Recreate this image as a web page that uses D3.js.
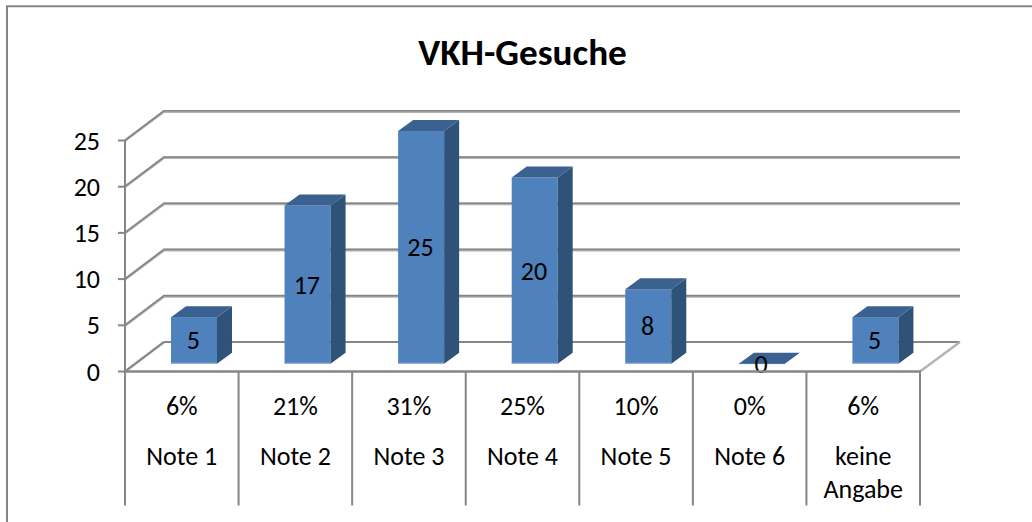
<!DOCTYPE html>
<html><head><meta charset="utf-8">
<style>html,body{margin:0;padding:0;background:#fff}svg{display:block}text{font-family:Carlito,Lato,"Open Sans",sans-serif;fill:#000}</style>
<script src="https://cdn.jsdelivr.net/npm/d3@7"></script></head><body><script>
const categories=["Note 1","Note 2","Note 3","Note 4","Note 5","Note 6","keine Angabe"];
const percentLabels=["6%","21%","31%","25%","10%","0%","6%"];
const values=[5,17,25,20,8,0,5];
const yTicks=[0,5,10,15,20,25];
const title="VKH-Gesuche";

const W=1032,H=522;
const svg=d3.select("body").append("svg").attr("width",W).attr("height",H);
const x0=125,x1=920,depthX=39,depthY=-29.5;
const y=d3.scaleLinear().domain([0,25]).range([371.5,140.5]);
const x=d3.scaleBand().domain(categories).range([x0,x1]);
const barY=d3.scaleLinear().domain([0,25]).range([363.7,131]);
const grey="#868686",lightGrey="#b2b2b2";
const fs=26;

// frame: only the top and left edges fall inside the picture
svg.append("path").attr("fill","none").attr("stroke",grey).attr("stroke-width",2)
  .attr("d",`M7,${H}V6.2H${W}`);

svg.append("text").attr("x",522.5).attr("y",65).attr("text-anchor","middle").attr("font-weight","bold").attr("font-size",37.2).text(title);

// walls
const grid=svg.append("g");
yTicks.forEach(t=>{
  const yy=y(t);
  grid.append("path").attr("fill","none").attr("stroke",lightGrey).attr("stroke-width",2.8)
    .attr("d",t===0?`M${x0},${yy}L${x0+depthX},${yy+depthY}`:`M${x0},${yy}L${x0+depthX},${yy+depthY+0.5}L${x1+depthX+1},${yy+depthY+0.5}`);
  grid.append("path").attr("fill","none").attr("stroke",grey).attr("stroke-width",1.6)
    .attr("d",t===0?`M${x0},${yy}L${x0+depthX},${yy+depthY}`:`M${x0},${yy}L${x0+depthX},${yy+depthY-0.2}L${x1+depthX+1},${yy+depthY-0.2}`);
});
// floor
grid.append("path").attr("fill","none").attr("stroke",grey).attr("stroke-width",2.2)
  .attr("d",`M${x0+depthX},${y(0)+depthY}L${x1+depthX+1},${y(0)+depthY}`);
grid.append("path").attr("fill","none").attr("stroke",lightGrey).attr("stroke-width",2.2)
  .attr("d",`M${x1+depthX+1},${y(0)+depthY}L${x1},${y(0)}`);

// bars
const bars=svg.append("g");
const bw=46,bdx=15,bdy=-11;
categories.forEach((c,i)=>{
  const v=values[i];
  const l=x(c)+x.bandwidth()/2-10.8;
  const r=l+bw,t=barY(v),b=barY(0);
  if(v>0){
    bars.append("rect").attr("x",l).attr("y",t).attr("width",bw).attr("height",b-t).attr("fill","#4f81bd");
    bars.append("rect").attr("x",l).attr("y",b-1).attr("width",bw).attr("height",1.2).attr("fill","#95b3d7");
    bars.append("path").attr("fill","#2f5279").attr("d",`M${r},${t}L${r+bdx},${t+bdy}L${r+bdx},${b+bdy}L${r},${b}Z`);
  } else {
    bars.append("rect").attr("x",l).attr("y",b-1).attr("width",bw).attr("height",1.4).attr("fill","#95b3d7");
  }
  bars.append("path").attr("fill","#3a6190").attr("d",`M${l},${t}L${l+bdx},${t+bdy}L${r+bdx},${t+bdy}L${r},${t}Z`);
});
// data labels
categories.forEach((c,i)=>{
  const v=values[i];
  svg.append("text").attr("x",x(c)+x.bandwidth()/2+11.5).attr("y",(barY(v)+barY(0))/2+9)
    .attr("text-anchor","middle").attr("font-size",fs).text(v);
});

// y axis
const axisG=svg.append("g");
axisG.append("line").attr("x1",x0).attr("x2",x0).attr("y1",y(25)).attr("y2",y(0)).attr("stroke",grey).attr("stroke-width",2);
yTicks.forEach(t=>{
  axisG.append("line").attr("x1",x0-7).attr("x2",x0).attr("y1",y(t)).attr("y2",y(t)).attr("stroke",grey).attr("stroke-width",2);
  axisG.append("text").attr("x",100).attr("y",y(t)+9).attr("text-anchor","end").attr("font-size",fs).text(t);
});

// category table
axisG.append("line").attr("x1",x0-1).attr("x2",x1+1).attr("y1",y(0)).attr("y2",y(0)).attr("stroke",grey).attr("stroke-width",2.4);
d3.range(categories.length+1).forEach(i=>{
  const xx=x0+i*x.step();
  axisG.append("line").attr("x1",xx).attr("x2",xx).attr("y1",y(0)).attr("y2",505.5).attr("stroke",grey).attr("stroke-width",2);
});
categories.forEach((c,i)=>{
  const cx=x(c)+x.bandwidth()/2;
  axisG.append("text").attr("x",cx).attr("y",414.5).attr("text-anchor","middle").attr("font-size",fs).text(percentLabels[i]);
  const lines=c==="keine Angabe"?["keine","Angabe"]:[c];
  lines.forEach((s,k)=>axisG.append("text").attr("x",cx).attr("y",465+k*33).attr("text-anchor","middle").attr("font-size",fs).text(s));
});
</script></body></html>
